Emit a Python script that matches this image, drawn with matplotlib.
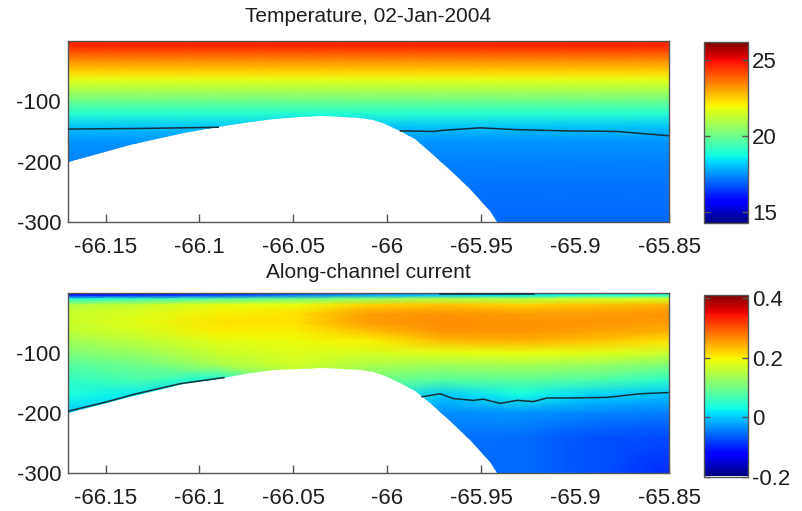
import numpy as np
import matplotlib
matplotlib.use('Agg')
import matplotlib.pyplot as plt
from matplotlib.patches import Polygon

plt.rcParams['font.family'] = ['Liberation Sans', 'DejaVu Sans']
plt.rcParams['axes.unicode_minus'] = False

# section grid
lon = [-66.17, -66.13, -66.09, -66.05, -66.01, -65.97, -65.93, -65.89, -65.85]
depth = [0, 4, 10, 20, 35, 50, 65, 80, 100, 120, 145, 170, 200, 240, 300]

# temperature profile (degC), same for every station
temp_profile = [24.8, 24.7, 24.5, 24.0, 23.2, 22.5, 21.7, 21.0, 20.0, 19.0,
                18.0, 17.5, 17.3, 17.15, 17.0]

# along-channel current (m/s), rows = depth, cols = lon
current = [
    [-0.14, -0.13, -0.12, -0.09, -0.05, -0.03, -0.01, 0.01, 0.02],
    [-0.11, -0.10, -0.08, -0.05, -0.02, 0.00, 0.02, 0.04, 0.05],
    [0.04, 0.06, 0.08, 0.10, 0.12, 0.15, 0.15, 0.17, 0.17],
    [0.15, 0.165, 0.185, 0.19, 0.22, 0.23, 0.22, 0.23, 0.24],
    [0.165, 0.18, 0.20, 0.21, 0.255, 0.26, 0.255, 0.255, 0.26],
    [0.165, 0.185, 0.21, 0.21, 0.255, 0.265, 0.26, 0.26, 0.255],
    [0.155, 0.175, 0.20, 0.20, 0.23, 0.26, 0.26, 0.25, 0.24],
    [0.135, 0.155, 0.185, 0.19, 0.20, 0.235, 0.24, 0.23, 0.21],
    [0.11, 0.13, 0.165, 0.18, 0.175, 0.185, 0.19, 0.185, 0.165],
    [0.08, 0.10, 0.14, 0.17, 0.145, 0.135, 0.14, 0.13, 0.11],
    [0.055, 0.07, 0.03, 0.16, 0.10, 0.08, 0.085, 0.075, 0.05],
    [0.035, 0.02, 0.0, 0.10, 0.06, 0.0, 0.03, 0.005, -0.005],
    [0.0, 0.0, 0.0, 0.05, 0.03, -0.035, -0.03, -0.04, -0.045],
    [0.0, 0.0, 0.0, 0.0, 0.0, -0.05, -0.055, -0.07, -0.075],
    [0.0, 0.0, 0.0, 0.0, 0.0, -0.06, -0.055, -0.07, -0.095],
]

# bottom depth along the section
bathy_lon = [-66.17, -66.135, -66.1085, -66.0904, -66.0729, -66.06, -66.0463, -66.035,
             -66.0237, -66.0144, -66.0074, -66.001, -65.993, -65.985, -65.9771,
             -65.9665, -65.9558, -65.9452, -65.9415, -65.9346, -65.85]
bathy_dep = [200, 171, 152, 143, 134, 129, 126, 125, 126, 128, 131, 138, 150, 163,
             184, 214, 245, 282, 300, 320, 420]

# contour lines traced from the section
temp_line_w_lon = [-66.17, -66.15, -66.13, -66.11, -66.09]
temp_line_w_dep = [146, 145.5, 145, 144, 143]
temp_line_e_lon = [-65.993, -65.9755, -65.9702, -65.9505, -65.9309, -65.9043, -65.8777, -65.8505]
temp_line_e_dep = [149, 150, 148, 144, 147, 149, 150, 157]

cur_line_w_lon = [-66.17, -66.15, -66.135, -66.11, -66.087]
cur_line_w_dep = [197, 182, 169, 151, 141]
cur_line_e_lon = [-65.9815, -65.9718, -65.9649, -65.9543, -65.9489, -65.9399, -65.9309,
                  -65.9223, -65.9149, -65.9011, -65.8830, -65.8654, -65.8505]
cur_line_e_dep = [173, 168, 176, 179, 177, 184, 179, 181, 175, 175, 174, 168, 166]
cur_line_top_lon = [-65.972, -65.922]
cur_line_top_dep = [1.5, 1.5]

xticks = [-66.15, -66.1, -66.05, -66.0, -65.95, -65.9, -65.85]
xticklabels = ['-66.15', '-66.1', '-66.05', '-66', '-65.95', '-65.9', '-65.85']
yticks = [-300, -200, -100]
yticklabels = ['-300', '-200', '-100']
temp_cticks = [15, 20, 25]
cur_cticks = [-0.2, 0, 0.2, 0.4]
cur_cticklabels = ['-0.2', '0', '0.2', '0.4']

LX, LY = np.meshgrid(lon, -np.array(depth, dtype=float))
T = np.tile(np.array(temp_profile)[:, None], (1, len(lon)))
U = np.array(current)

line_col = '#12323a'
spine_col = '#555555'
text_col = '#1e1e1e'

fig = plt.figure(figsize=(8.02, 5.11), dpi=100)
ax1 = fig.add_axes([0.0848, 0.5656, 0.7494, 0.3542])
ax2 = fig.add_axes([0.0848, 0.0744, 0.7494, 0.3523])
cax1 = fig.add_axes([0.8778, 0.5636, 0.0549, 0.3542])
cax2 = fig.add_axes([0.8778, 0.0665, 0.0549, 0.3562])


def water_patch(ax):
    px = np.concatenate([bathy_lon, [bathy_lon[-1], bathy_lon[0]]])
    py = np.concatenate([-np.array(bathy_dep, dtype=float), [20, 20]])
    return Polygon(np.column_stack([px, py]), closed=True, transform=ax.transData)


def section(ax, cax, field, vmin, vmax, title, pad, lines, cticks, cticklabels):
    m = ax.pcolormesh(LX, LY, field, cmap='jet', vmin=vmin, vmax=vmax,
                      shading='gouraud', zorder=1)
    m.set_clip_path(water_patch(ax))
    for lx, ly in lines:
        ax.plot(lx, -np.array(ly, dtype=float), color=line_col, lw=1.1, zorder=3)
    ax.set_xlim(-66.17, -65.85)
    ax.set_ylim(-300, 0)
    ax.set_axisbelow(True)
    ax.set_xticks(xticks)
    ax.set_xticklabels(xticklabels)
    ax.set_yticks(yticks)
    ax.set_yticklabels(yticklabels)
    ax.tick_params(axis='x', direction='in', length=6, width=1, color=spine_col,
                   labelsize=16, pad=11, labelcolor=text_col)
    ax.tick_params(axis='y', direction='in', length=0, labelsize=16, pad=5,
                   labelcolor=text_col)
    for s in ax.spines.values():
        s.set_color(spine_col)
        s.set_linewidth(1)
    ax.set_title(title, fontsize=15, pad=pad, color=text_col)

    cb = fig.colorbar(m, cax=cax)
    cb.set_ticks(cticks)
    cb.set_ticklabels(cticklabels)
    cb.outline.set_edgecolor(spine_col)
    cb.outline.set_linewidth(1)
    cax.tick_params(direction='in', length=4, width=1, color=spine_col,
                    labelsize=16, pad=3, left=True, right=True, labelcolor=text_col)
    return m


section(ax1, cax1, T, 14.3, 26.2, 'Temperature, 02-Jan-2004', 13.5,
        [(temp_line_w_lon, temp_line_w_dep), (temp_line_e_lon, temp_line_e_dep)],
        temp_cticks, [str(t) for t in temp_cticks])
section(ax2, cax2, U, -0.195, 0.41, 'Along-channel current', 11,
        [(cur_line_w_lon, cur_line_w_dep), (cur_line_e_lon, cur_line_e_dep),
         (cur_line_top_lon, cur_line_top_dep)],
        cur_cticks, cur_cticklabels)

fig.savefig('out.png', dpi=100)
